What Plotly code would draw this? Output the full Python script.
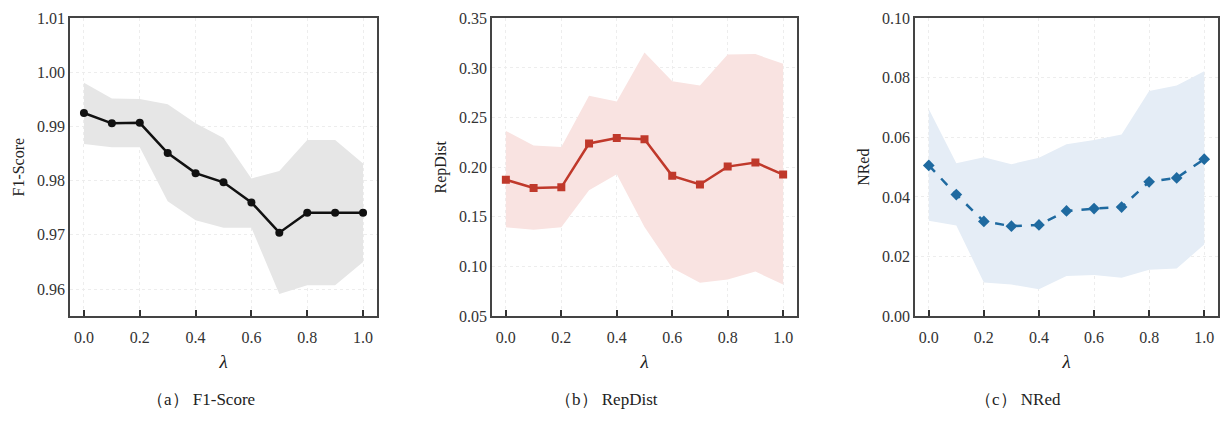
import plotly.graph_objects as go

lam = [0.0, 0.1, 0.2, 0.3, 0.4, 0.5, 0.6, 0.7, 0.8, 0.9, 1.0]

f1_mean = [0.9925, 0.9906, 0.9907, 0.9851, 0.9814, 0.9797, 0.9760, 0.9704, 0.9741, 0.9741, 0.9741]
f1_upper = [0.9981, 0.9952, 0.9951, 0.9941, 0.9906, 0.9879, 0.9804, 0.9818, 0.9875, 0.9875, 0.9832]
f1_lower = [0.9868, 0.9862, 0.9862, 0.9762, 0.9727, 0.9713, 0.9713, 0.9591, 0.9607, 0.9607, 0.9650]

rd_mean = [0.1874, 0.1790, 0.1797, 0.2239, 0.2294, 0.2281, 0.1913, 0.1826, 0.2006, 0.2048, 0.1926]
rd_upper = [0.2365, 0.2219, 0.2203, 0.2719, 0.2661, 0.3155, 0.2865, 0.2823, 0.3135, 0.3139, 0.3042]
rd_lower = [0.1394, 0.1371, 0.1394, 0.1768, 0.1929, 0.1397, 0.0984, 0.0835, 0.0868, 0.0948, 0.0819]

nr_mean = [0.0506, 0.0408, 0.0318, 0.0302, 0.0306, 0.0353, 0.0361, 0.0366, 0.0451, 0.0464, 0.0527]
nr_upper = [0.0695, 0.0513, 0.0533, 0.0510, 0.0532, 0.0577, 0.0591, 0.0610, 0.0756, 0.0774, 0.0822]
nr_lower = [0.0320, 0.0304, 0.0113, 0.0106, 0.0090, 0.0135, 0.0138, 0.0129, 0.0156, 0.0160, 0.0240]

x_ticks = [0.0, 0.2, 0.4, 0.6, 0.8, 1.0]
x_ticktext = ["0.0", "0.2", "0.4", "0.6", "0.8", "1.0"]

captions = ["（a） F1-Score", "（b） RepDist", "（c） NRed"]
ytitles = ["F1-Score", "RepDist", "NRed"]

W, H = 1222, 423
FONT = "Liberation Serif, Times New Roman, serif"

fig = go.Figure()

panels = [
    dict(mean=f1_mean, up=f1_upper, lo=f1_lower, color="#111111", band="#e6e6e6",
         symbol="circle", dash="solid", yr=[0.955, 1.01], dt=0.01, fmt=".2f", ms=8),
    dict(mean=rd_mean, up=rd_upper, lo=rd_lower, color="#c0392b", band="#f9e3e1",
         symbol="square", dash="solid", yr=[0.05, 0.35], dt=0.05, fmt=".2f", ms=8),
    dict(mean=nr_mean, up=nr_upper, lo=nr_lower, color="#1f6aa0", band="#e5edf6",
         symbol="diamond", dash="dash", yr=[0.0, 0.10], dt=0.02, fmt=".2f", ms=9),
]

xdom_px = [(70, 377), (492, 797), (915, 1218)]
ydom_px = (10.7, 321)

for i, p in enumerate(panels):
    xa = "x" if i == 0 else f"x{i+1}"
    ya = "y" if i == 0 else f"y{i+1}"
    fig.add_trace(go.Scatter(x=lam, y=p["up"], mode="lines", line=dict(width=0),
                             hoverinfo="skip", showlegend=False, xaxis=xa, yaxis=ya))
    fig.add_trace(go.Scatter(x=lam, y=p["lo"], mode="lines", line=dict(width=0),
                             fill="tonexty", fillcolor=p["band"],
                             hoverinfo="skip", showlegend=False, xaxis=xa, yaxis=ya))
    fig.add_trace(go.Scatter(x=lam, y=p["mean"], mode="lines+markers",
                             line=dict(color=p["color"], width=2.5, dash=p["dash"]),
                             marker=dict(symbol=p["symbol"], size=p["ms"], color=p["color"]),
                             showlegend=False, xaxis=xa, yaxis=ya))

    x0, x1 = xdom_px[i]
    xkey = "xaxis" if i == 0 else f"xaxis{i+1}"
    ykey = "yaxis" if i == 0 else f"yaxis{i+1}"
    fig.layout[xkey] = dict(
        domain=[x0 / W, x1 / W], range=[-0.05, 1.05], anchor=ya,
        tickvals=x_ticks, ticktext=x_ticktext, ticks="inside", ticklen=6,
        tickwidth=1.5, tickcolor="#333333", ticklabelstandoff=6,
        showline=True, mirror=True, linecolor="#444444", linewidth=1.8,
        showgrid=True, gridcolor="#ededed", griddash="dot", gridwidth=1,
        zeroline=False, tickfont=dict(family=FONT, size=16, color="#333333"),
        title=dict(text="<i>λ</i>", font=dict(family=FONT, size=19, color="#222222"),
                   standoff=10),
    )
    fig.layout[ykey] = dict(
        domain=[1 - ydom_px[1] / H, 1 - ydom_px[0] / H], range=p["yr"], anchor=xa,
        dtick=p["dt"], tick0=0, tickformat=p["fmt"], ticks="",
        showline=True, mirror=True, linecolor="#444444", linewidth=1.8,
        showgrid=True, gridcolor="#ededed", griddash="dot", gridwidth=1,
        zeroline=False, tickfont=dict(family=FONT, size=16, color="#333333"),
        title=dict(text=ytitles[i], font=dict(family=FONT, size=16, color="#222222"),
                   standoff=8),
    )

caption_x = [201, 606, 1018]
for cx, txt in zip(caption_x, captions):
    fig.add_annotation(x=cx / W, y=1 - 408 / H, xref="paper", yref="paper",
                       text=txt, showarrow=False,
                       font=dict(family=FONT, size=17, color="#222222"),
                       xanchor="center", yanchor="middle")

fig.update_layout(
    width=W, height=H, margin=dict(l=0, r=0, t=0, b=0),
    paper_bgcolor="white", plot_bgcolor="white",
)

fig.write_html("out.html")
